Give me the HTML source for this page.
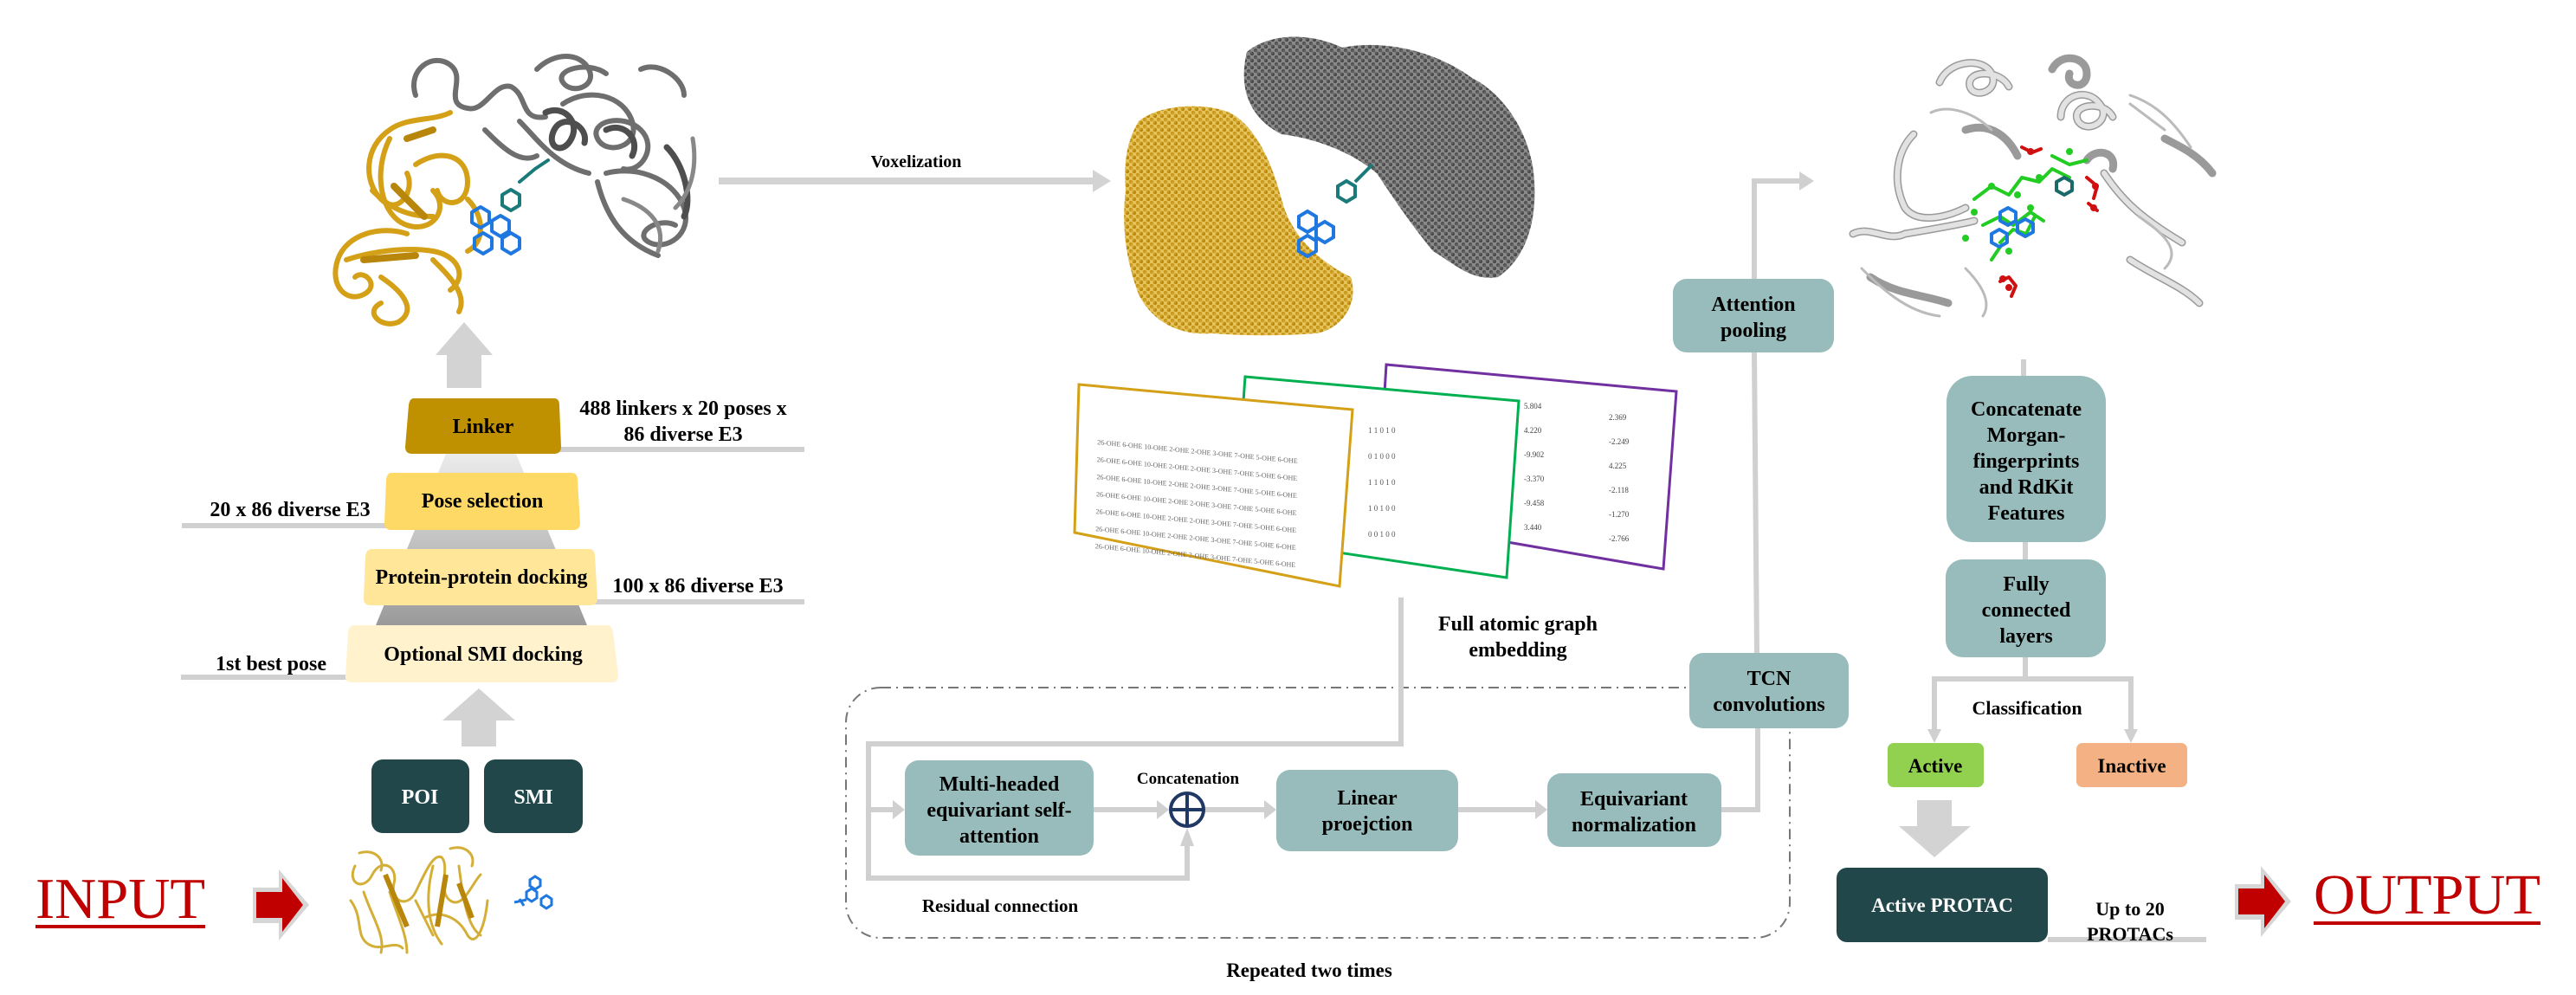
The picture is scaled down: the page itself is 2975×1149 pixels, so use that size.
<!DOCTYPE html>
<html><head><meta charset="utf-8"><style>
html,body{margin:0;padding:0;background:#fff;}
svg{display:block;}
text{font-family:"Liberation Serif",serif;}
.b{font-weight:bold;fill:#000;}
</style></head><body>
<svg width="2975" height="1149" viewBox="0 0 2975 1149" xmlns="http://www.w3.org/2000/svg">
<defs>
<linearGradient id="tg" x1="0" y1="0" x2="0" y2="1"><stop offset="0" stop-color="#ECECEC"/><stop offset="1" stop-color="#9A9A9A"/></linearGradient>
<pattern id="pg" width="8" height="8" patternUnits="userSpaceOnUse"><rect width="8" height="8" fill="#E6C25A"/><circle cx="2" cy="2" r="2.2" fill="#C8981A"/><circle cx="6" cy="6" r="2.2" fill="#B8880E"/><line x1="2" y1="2" x2="6" y2="6" stroke="#D4A52A" stroke-width="1.5"/></pattern>
<pattern id="pk" width="8" height="8" patternUnits="userSpaceOnUse"><rect width="8" height="8" fill="#8A8A8A"/><circle cx="2" cy="2" r="2.2" fill="#555"/><circle cx="6" cy="6" r="2.2" fill="#4A4A4A"/><line x1="2" y1="2" x2="6" y2="6" stroke="#666" stroke-width="1.5"/></pattern>
</defs>

<!-- ===== top-left protein ===== -->
<g fill="none" stroke-linecap="round" stroke-linejoin="round">
<g stroke="#6E6E6E" stroke-width="6">
<path d="M480,110 C470,80 500,60 520,75 C540,90 510,120 540,125 C560,130 570,95 590,100 C610,110 600,140 630,135"/>
<path d="M620,80 C640,60 670,60 680,80 C690,100 660,110 650,95 C640,80 680,70 700,85"/>
<path d="M650,120 C680,100 720,110 730,140 C740,170 700,180 690,160 C680,140 720,130 740,150 C760,170 740,200 720,195"/>
<path d="M700,200 C740,190 780,210 790,240 C800,270 770,290 750,280 C730,270 760,250 780,260"/>
<path d="M690,210 C700,250 720,280 760,295"/>
<path d="M560,150 C580,170 600,190 620,180"/>
<path d="M740,80 C760,70 790,90 790,110"/>
<path d="M600,140 C620,160 640,190 680,200"/>
</g>
<g stroke="#4E4E4E" stroke-width="7">
<path d="M630,130 C650,120 670,140 660,160 C650,180 630,170 640,150 C650,130 680,145 675,165"/>
<path d="M700,150 C720,140 740,160 730,180"/>
<path d="M770,170 C790,190 800,230 790,250"/>
</g>
<g stroke="#888" stroke-width="5">
<path d="M720,230 C750,240 770,260 760,290"/>
<path d="M800,160 C805,190 800,220 780,240"/>
</g>
<g stroke="#D4A017" stroke-width="6">
<path d="M520,130 C500,140 470,135 450,150 C420,170 420,210 440,230 C460,250 480,220 470,200"/>
<path d="M450,160 C430,200 440,250 470,260 C500,270 520,240 500,220"/>
<path d="M480,190 C510,170 540,180 540,210 C540,240 510,240 505,220"/>
<path d="M470,270 C440,260 400,270 390,300 C380,330 400,350 420,340 C440,330 420,310 410,320"/>
<path d="M400,300 C430,290 470,285 500,290 C530,295 540,320 520,335"/>
<path d="M440,320 C470,340 480,360 460,372 C440,380 420,360 440,350"/>
<path d="M500,300 C520,320 540,340 530,360"/>
<path d="M430,220 C450,240 470,250 500,250"/>
<path d="M540,230 C560,250 560,280 540,290"/>
</g>
<g stroke="#B8860B" stroke-width="8"><path d="M455,215 L490,250"/><path d="M420,300 L480,295"/><path d="M470,160 L500,150"/></g>
<g stroke="#1E78E0" stroke-width="4">
<path d="M545,245 l10,-6 l10,6 l0,12 l-10,6 l-10,-6z"/><path d="M568,255 l10,-6 l10,6 l0,12 l-10,6 l-10,-6z"/><path d="M548,275 l10,-6 l10,6 l0,12 l-10,6 l-10,-6z"/><path d="M580,275 l10,-6 l10,6 l0,12 l-10,6 l-10,-6z"/>
</g>
<g stroke="#1A7A7A" stroke-width="4"><path d="M580,225 l10,-6 l10,6 l0,12 l-10,6 l-10,-6z"/><path d="M600,210 l18,-15 l15,-10"/></g>
</g>

<!-- up arrow above linker -->
<polygon points="503,410 536,372 569,410 556,410 556,448 516,448 516,410" fill="#D3D3D3"/>

<!-- ===== pyramid ===== -->
<polygon points="515,524 596,524 678,722 434,722" fill="url(#tg)"/>
<g stroke="#D0D0D0" stroke-width="6">
<line x1="640" y1="519" x2="929" y2="519"/>
<line x1="210" y1="607" x2="450" y2="607"/>
<line x1="680" y1="695" x2="929" y2="695"/>
<line x1="209" y1="782" x2="405" y2="782"/>
</g>
<path d="M478,460 L640,460 Q646,460 646,468 L648,516 Q648,524 640,524 L476,524 Q468,524 468,516 L472,468 Q473,460 478,460Z" fill="#BF9000"/>
<path d="M452,546 L660,546 Q667,546 667,554 L670,604 Q670,612 662,612 L452,612 Q444,612 444,604 L446,554 Q447,546 452,546Z" fill="#FFD966"/>
<path d="M430,634 L680,634 Q687,634 687,642 L690,691 Q690,699 682,699 L428,699 Q420,699 420,691 L422,642 Q423,634 430,634Z" fill="#FFE699"/>
<path d="M410,722 L700,722 Q707,722 708,730 L714,780 Q714,788 706,788 L406,788 Q398,788 399,780 L402,730 Q403,722 410,722Z" fill="#FFF2CC"/>
<g class="b" font-size="24" text-anchor="middle">
<text x="558" y="500" class="b">Linker</text>
<text x="557" y="586" class="b">Pose selection</text>
<text x="556" y="674" class="b">Protein-protein docking</text>
<text x="558" y="763" class="b">Optional SMI docking</text>
<text x="789" y="479" class="b">488 linkers x 20 poses x</text>
<text x="789" y="509" class="b">86 diverse E3</text>
<text x="335" y="596" class="b">20 x 86 diverse E3</text>
<text x="806" y="684" class="b">100 x 86 diverse E3</text>
<text x="313" y="774" class="b">1st best pose</text>
</g>

<!-- lower up arrow -->
<polygon points="511,832 553,795 595,832 573,832 573,862 533,862 533,832" fill="#D3D3D3"/>

<!-- POI SMI -->
<rect x="429" y="877" width="113" height="85" rx="13" fill="#22474A"/>
<rect x="559" y="877" width="114" height="85" rx="13" fill="#22474A"/>
<text x="485" y="928" font-size="24" text-anchor="middle" font-weight="bold" fill="#fff">POI</text>
<text x="616" y="928" font-size="24" text-anchor="middle" font-weight="bold" fill="#fff">SMI</text>

<!-- INPUT -->
<text x="41" y="1060" font-size="67" fill="#C00000" textLength="196" lengthAdjust="spacingAndGlyphs">INPUT</text>
<rect x="41" y="1068" width="196" height="4" fill="#C00000"/>
<polygon points="292,1025 322,1025 322,1004 357,1045 322,1086 322,1066 292,1066" fill="#D6D6D6"/>
<polygon points="296,1030 326,1030 326,1014 350,1045 326,1076 326,1060 296,1060" fill="#C00000"/>

<!-- input protein -->
<g fill="none" stroke="#D4AF37" stroke-width="3" stroke-linecap="round">
<path d="M410,1000 C400,1020 420,1030 430,1010 C440,990 460,1000 455,1020 C450,1040 470,1050 480,1030 C490,1010 500,985 510,990 C520,1000 505,1030 520,1040 C535,1050 545,1020 555,1010"/>
<path d="M420,1030 C430,1060 445,1080 440,1100 M450,1030 C460,1060 470,1080 470,1100 M480,1040 L500,1080 M500,1000 C490,1040 495,1070 510,1090 M530,1000 C535,1040 540,1070 555,1080"/>
<path d="M405,1040 C420,1060 410,1080 425,1090 C440,1100 455,1085 465,1095 M490,1060 C510,1050 530,1060 540,1080 C550,1095 560,1070 563,1040"/>
<path d="M415,985 C430,980 445,990 440,1005 M520,980 C535,975 550,985 545,1000"/>
</g>
<g fill="none" stroke="#B8860B" stroke-width="6"><path d="M445,1010 L470,1070"/><path d="M515,1010 L505,1070"/><path d="M530,1020 L545,1060"/></g>
<g fill="none" stroke="#1E78E0" stroke-width="3">
<path d="M612,1016 l6,-4 l6,4 l0,7 l-6,4 l-6,-4z"/><path d="M608,1030 l6,-4 l6,4 l0,7 l-6,4 l-6,-4z"/><path d="M625,1038 l6,-4 l6,4 l0,7 l-6,4 l-6,-4z"/><path d="M594,1042 l14,-3 M600,1038 l5,8"/>
</g>

<!-- Voxelization arrow -->
<rect x="830" y="205" width="432" height="8" fill="#D3D3D3"/>
<polygon points="1262,196 1283,209 1262,222" fill="#D3D3D3"/>
<text x="1058" y="193" font-size="20" text-anchor="middle" class="b">Voxelization</text>

<!-- voxel protein -->
<path d="M1440,60 C1470,35 1520,40 1550,55 C1600,45 1660,60 1700,90 C1740,110 1770,160 1772,210 C1775,260 1760,300 1730,320 C1700,325 1680,305 1655,290 C1630,260 1610,230 1590,200 C1560,175 1520,160 1480,155 C1450,140 1428,110 1440,60Z" fill="url(#pk)"/>
<path d="M1315,140 C1340,120 1390,118 1420,130 C1450,145 1470,190 1480,230 C1490,270 1520,300 1560,320 C1570,350 1550,380 1520,385 C1480,388 1440,388 1400,385 C1360,388 1330,370 1315,340 C1300,300 1295,260 1300,220 C1298,190 1300,165 1315,140Z" fill="url(#pg)"/>
<g fill="none" stroke="#1E78E0" stroke-width="4">
<path d="M1500,250 l10,-6 l10,6 l0,12 l-10,6 l-10,-6z"/><path d="M1520,262 l10,-6 l10,6 l0,12 l-10,6 l-10,-6z"/><path d="M1500,278 l10,-6 l10,6 l0,12 l-10,6 l-10,-6z"/>
</g>
<g fill="none" stroke="#1A7A7A" stroke-width="4"><path d="M1545,215 l10,-6 l10,6 l0,12 l-10,6 l-10,-6z"/><path d="M1565,210 l20,-20"/></g>

<!-- tables -->
<polygon points="1601,421 1936,452 1921,657 1590,600" fill="#fff" stroke="#7030A0" stroke-width="3"/>
<g font-size="9" fill="#444" font-family="Liberation Sans, sans-serif">
<text x="1760" y="472">5.804</text><text x="1858" y="485">2.369</text>
<text x="1760" y="500">4.220</text><text x="1858" y="513">-2.249</text>
<text x="1760" y="528">-9.902</text><text x="1858" y="541">4.225</text>
<text x="1760" y="556">-3.370</text><text x="1858" y="569">-2.118</text>
<text x="1760" y="584">-9.458</text><text x="1858" y="597">-1.270</text>
<text x="1760" y="612">3.440</text><text x="1858" y="625">-2.766</text>
</g>
<polygon points="1438,435 1754,463 1740,667 1425,620" fill="#fff" stroke="#00B050" stroke-width="3"/>
<g font-size="9" fill="#555" font-family="Liberation Sans, sans-serif">
<text x="1580" y="500">1    1    0    1        0</text>
<text x="1580" y="530">0    1    0    0        0</text>
<text x="1580" y="560">1    1    0    1        0</text>
<text x="1580" y="590">1    0    1    0        0</text>
<text x="1580" y="620">0    0    1    0        0</text>
</g>
<polygon points="1246,444 1562,473 1547,677 1241,615" fill="#fff" stroke="#D4A017" stroke-width="3"/>
<g font-size="8" fill="#666" font-family="Liberation Sans, sans-serif" transform="matrix(1,0.095,-0.02,1,0,0)">
<text x="1275" y="392">26-OHE  6-OHE  10-OHE  2-OHE  2-OHE  3-OHE  7-OHE  5-OHE  6-OHE</text>
<text x="1275" y="412">26-OHE  6-OHE  10-OHE  2-OHE  2-OHE  3-OHE  7-OHE  5-OHE  6-OHE</text>
<text x="1275" y="432">26-OHE  6-OHE  10-OHE  2-OHE  2-OHE  3-OHE  7-OHE  5-OHE  6-OHE</text>
<text x="1275" y="452">26-OHE  6-OHE  10-OHE  2-OHE  2-OHE  3-OHE  7-OHE  5-OHE  6-OHE</text>
<text x="1275" y="472">26-OHE  6-OHE  10-OHE  2-OHE  2-OHE  3-OHE  7-OHE  5-OHE  6-OHE</text>
<text x="1275" y="492">26-OHE  6-OHE  10-OHE  2-OHE  2-OHE  3-OHE  7-OHE  5-OHE  6-OHE</text>
<text x="1275" y="512">26-OHE  6-OHE  10-OHE  2-OHE  2-OHE  3-OHE  7-OHE  5-OHE  6-OHE</text>
</g>

<text x="1753" y="728" font-size="24" text-anchor="middle" class="b">Full atomic graph</text>
<text x="1753" y="758" font-size="24" text-anchor="middle" class="b">embedding</text>

<!-- dashed repeat box -->
<rect x="977" y="794" width="1090" height="289" rx="40" fill="none" stroke="#777" stroke-width="2" stroke-dasharray="12,6,2,6"/>
<text x="1155" y="1053" font-size="21" text-anchor="middle" class="b">Residual connection</text>
<text x="1512" y="1128" font-size="23" text-anchor="middle" class="b">Repeated two times</text>

<!-- connectors inside -->
<g stroke="#D0D0D0" stroke-width="6" fill="none">
<polyline points="1618,690 1618,859 1003,859 1003,1014 1371,1014 1371,975"/>
<line x1="1003" y1="935" x2="1032" y2="935"/>
<line x1="1263" y1="935" x2="1336" y2="935"/>
<line x1="1391" y1="935" x2="1460" y2="935"/>
<line x1="1684" y1="935" x2="1773" y2="935"/>
<polyline points="1988,935 2030,935 2030,841"/>
<polyline points="2029,754 2026,407"/>
<polyline points="2026,322 2026,209 2080,209"/>
</g>
<g fill="#D0D0D0">
<polygon points="1031,924 1045,935 1031,946"/>
<polygon points="1336,924 1350,935 1336,946"/>
<polygon points="1460,924 1474,935 1460,946"/>
<polygon points="1773,924 1787,935 1773,946"/>
<polygon points="1363,977 1371,956 1379,977"/>
<polygon points="2078,198 2095,209 2078,220"/>
</g>
<circle cx="1371" cy="935" r="19" fill="#fff" stroke="#1F3864" stroke-width="4"/>
<line x1="1352" y1="935" x2="1390" y2="935" stroke="#1F3864" stroke-width="4"/>
<line x1="1371" y1="916" x2="1371" y2="954" stroke="#1F3864" stroke-width="4"/>
<text x="1372" y="905" font-size="19" text-anchor="middle" class="b">Concatenation</text>

<!-- teal boxes -->
<g fill="#97BCBB">
<rect x="1045" y="878" width="218" height="110" rx="16"/>
<rect x="1474" y="889" width="210" height="94" rx="16"/>
<rect x="1787" y="893" width="201" height="85" rx="16"/>
<rect x="1951" y="754" width="184" height="87" rx="16"/>
<rect x="1932" y="322" width="186" height="85" rx="16"/>
<rect x="2248" y="434" width="184" height="192" rx="30"/>
<rect x="2247" y="646" width="185" height="113" rx="20"/>
</g>
<g font-size="24" text-anchor="middle">
<text x="1154" y="913" class="b">Multi-headed</text>
<text x="1154" y="943" class="b">equivariant self-</text>
<text x="1154" y="973" class="b">attention</text>
<text x="1579" y="929" class="b">Linear</text>
<text x="1579" y="959" class="b">proejction</text>
<text x="1887" y="930" class="b">Equivariant</text>
<text x="1887" y="960" class="b">normalization</text>
<text x="2043" y="791" class="b">TCN</text>
<text x="2043" y="821" class="b">convolutions</text>
<text x="2025" y="359" class="b">Attention</text>
<text x="2025" y="389" class="b">pooling</text>
<text x="2340" y="480" class="b">Concatenate</text>
<text x="2340" y="510" class="b">Morgan-</text>
<text x="2340" y="540" class="b">fingerprints</text>
<text x="2340" y="570" class="b">and RdKit</text>
<text x="2340" y="600" class="b">Features</text>
<text x="2340" y="682" class="b">Fully</text>
<text x="2340" y="712" class="b">connected</text>
<text x="2340" y="742" class="b">layers</text>
</g>

<!-- right connectors -->
<g stroke="#D0D0D0" stroke-width="6" fill="none">
<line x1="2337" y1="415" x2="2337" y2="434"/>
<line x1="2339" y1="626" x2="2339" y2="646"/>
<polyline points="2339,759 2339,784"/>
<polyline points="2234,845 2234,784 2461,784 2461,845"/>
<line x1="2365" y1="1085" x2="2548" y2="1085"/>
</g>
<polygon points="2226,842 2234,858 2242,842" fill="#D0D0D0"/>
<polygon points="2453,842 2461,858 2469,842" fill="#D0D0D0"/>
<text x="2341" y="825" font-size="22" text-anchor="middle" class="b">Classification</text>
<rect x="2180" y="858" width="111" height="51" rx="7" fill="#92D050"/>
<rect x="2398" y="858" width="128" height="51" rx="7" fill="#F4B183"/>
<text x="2235" y="892" font-size="23" text-anchor="middle" class="b">Active</text>
<text x="2462" y="892" font-size="23" text-anchor="middle" class="b">Inactive</text>
<polygon points="2214,924 2254,924 2254,954 2276,954 2234,990 2193,954 2214,954" fill="#D3D3D3"/>
<rect x="2121" y="1002" width="244" height="86" rx="12" fill="#22474A"/>
<text x="2243" y="1053" font-size="23" text-anchor="middle" font-weight="bold" fill="#fff">Active PROTAC</text>
<text x="2460" y="1057" font-size="22" text-anchor="middle" class="b">Up to 20</text>
<text x="2460" y="1086" font-size="22" text-anchor="middle" class="b">PROTACs</text>

<!-- OUTPUT -->
<polygon points="2581,1021 2611,1021 2611,1000 2646,1041 2611,1082 2611,1062 2581,1062" fill="#D6D6D6"/>
<polygon points="2585,1026 2615,1026 2615,1010 2639,1041 2615,1072 2615,1056 2585,1056" fill="#C00000"/>
<text x="2672" y="1055" font-size="66" fill="#C00000" textLength="262" lengthAdjust="spacingAndGlyphs">OUTPUT</text>
<rect x="2672" y="1064" width="262" height="4" fill="#C00000"/>

<!-- right protein -->
<g fill="none" stroke-linecap="round" stroke-linejoin="round">
<g stroke="#9A9A9A" stroke-width="9">
<path d="M2240,95 C2250,70 2290,65 2300,85 C2310,105 2280,115 2275,100 C2270,80 2310,80 2320,100"/>
<path d="M2370,80 C2380,60 2410,65 2410,85 C2410,105 2385,100 2390,85"/>
<path d="M2380,135 C2380,110 2410,100 2425,120 C2440,140 2410,155 2400,140 C2390,120 2430,115 2440,135"/>
<path d="M2410,185 C2420,170 2445,175 2440,195"/>
<path d="M2210,155 C2190,175 2185,210 2200,240 C2215,260 2250,250 2270,240"/>
<path d="M2140,270 C2160,260 2180,280 2200,270 C2230,265 2260,260 2280,255"/>
<path d="M2430,200 C2450,230 2470,250 2520,280"/>
<path d="M2500,160 C2520,170 2540,180 2555,200"/>
<path d="M2270,150 C2300,140 2320,160 2330,180"/>
<path d="M2160,320 C2190,340 2220,340 2250,350"/>
<path d="M2460,300 C2490,320 2520,330 2540,350"/>
</g>
<g stroke="#E2E2E2" stroke-width="6">
<path d="M2240,95 C2250,70 2290,65 2300,85 C2310,105 2280,115 2275,100 C2270,80 2310,80 2320,100"/>
<path d="M2380,135 C2380,110 2410,100 2425,120 C2440,140 2410,155 2400,140 C2390,120 2430,115 2440,135"/>
<path d="M2210,155 C2190,175 2185,210 2200,240 C2215,260 2250,250 2270,240"/>
<path d="M2430,200 C2450,230 2470,250 2520,280"/>
<path d="M2140,270 C2160,260 2180,280 2200,270 C2230,265 2260,260 2280,255"/>
<path d="M2460,300 C2490,320 2520,330 2540,350"/>
</g>
<g stroke="#BBB" stroke-width="3">
<path d="M2230,130 C2250,120 2280,130 2300,150 M2460,110 C2490,120 2510,140 2530,170 M2150,310 C2170,330 2200,360 2240,365 M2470,250 C2500,270 2520,290 2500,310 M2460,120 L2500,150 M2270,310 C2290,330 2300,350 2290,365"/>
</g>
<g stroke="#23CC23" stroke-width="4"><path d="M2280,230 l20,-15 l20,10 l15,-20 l20,5 l15,-15 l20,10 M2290,260 l20,-10 l15,10 l20,-15 l15,10 M2310,280 l15,-15 l15,5 l10,-20 M2370,180 l20,10 l20,-5 M2300,300 l10,-15"/></g>
<g stroke="#1E78E0" stroke-width="4"><path d="M2310,245 l9,-5 l9,5 l0,10 l-9,5 l-9,-5z M2330,258 l9,-5 l9,5 l0,10 l-9,5 l-9,-5z M2300,270 l9,-5 l9,5 l0,10 l-9,5 l-9,-5z"/></g>
<g stroke="#1A6A6A" stroke-width="4"><path d="M2375,210 l9,-5 l9,5 l0,10 l-9,5 l-9,-5z"/></g>
<g stroke="#D01010" stroke-width="4"><path d="M2335,170 l12,6 l10,-4 M2410,205 l12,10 l-4,14 M2412,235 l10,8 M2310,325 l10,-5 l8,10 l-5,12"/></g>
</g>
<g fill="#23CC23"><circle cx="2300" cy="215" r="4"/><circle cx="2330" cy="225" r="4"/><circle cx="2355" cy="205" r="4"/><circle cx="2280" cy="245" r="4"/><circle cx="2320" cy="290" r="4"/><circle cx="2390" cy="175" r="4"/><circle cx="2345" cy="240" r="4"/><circle cx="2270" cy="275" r="4"/></g>
<g fill="#D01010"><circle cx="2345" cy="175" r="4"/><circle cx="2420" cy="215" r="4"/><circle cx="2418" cy="240" r="4"/><circle cx="2320" cy="332" r="4"/><circle cx="2313" cy="322" r="4"/></g>
</svg>
</body></html>
